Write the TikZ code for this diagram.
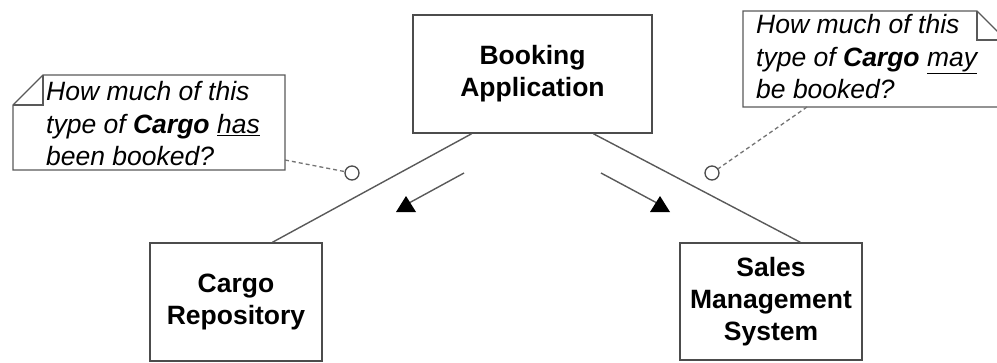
\documentclass[tikz,border=0pt]{standalone}
\usepackage{fontspec}
\setmainfont{Liberation Sans}
\usetikzlibrary{calc}
\begin{document}
\begin{tikzpicture}[x=1pt,y=-1pt,
  box/.style={draw=black!70, line width=1.4pt, align=center, inner sep=0pt,
    font=\fontsize{26.5}{32}\selectfont\bfseries},
  conn/.style={draw=black!65, line width=1.4pt},
  notetext/.style={align=left, inner sep=0pt, anchor=west,
    font=\fontsize{26.5}{32.5}\selectfont\itshape},
  noteline/.style={draw=black!65, line width=1.3pt},
  notedash/.style={draw=black!55, line width=1.3pt, dash pattern=on 4pt off 3pt},
  pin/.style={circle, draw=black!70, line width=1.3pt, fill=white, minimum size=14pt, inner sep=0pt},
  tri/.style={fill=black}
]
\useasboundingbox (0,0) rectangle (997,362);

% boxes
\node[box, minimum width=239pt, minimum height=118pt] (book) at (532.5,74) {Booking\\Application};
\node[box, minimum width=172pt, minimum height=118pt] (cargo) at (236,302) {Cargo\\Repository};
\node[box, minimum width=182pt, minimum height=117pt] (sales) at (771,301.5) {Sales\\Management\\System};

% connectors
\draw[conn] ($(book.south west)!0.247!(book.south east)$) -- ($(cargo.north west)!0.71!(cargo.north east)$);
\draw[conn] ($(book.south west)!0.753!(book.south east)$) -- ($(sales.north west)!0.66!(sales.north east)$);

% direction arrows
\coordinate (la1) at (464,173);
\coordinate (la2) at (409,203);
\draw[conn] (la1) -- (la2);
\fill[tri] (396,212) -- (406,196) -- (416,212) -- cycle;
\coordinate (ra1) at (601,173);
\coordinate (ra2) at (657,203);
\draw[conn] (ra1) -- (ra2);
\fill[tri] (650,212) -- (660,196) -- (670,212) -- cycle;

% left note
\draw[noteline] (13,105) -- (43,75) -- (285,75) -- (285,170) -- (13,170) -- cycle;
\draw[noteline] (43,75) -- (43,105) -- (13,105);
\node[notetext] (lnote) at (46,124) {How much of this\\type of \textbf{Cargo} \underline{has}\\been booked?};
\node[pin] (lpin) at (352,173) {};
\coordinate (lnoteend) at (285,160);
\draw[notedash] (lnoteend) -- (lpin);

% right note
\draw[noteline] (743,11) -- (977,11) -- (1007,41) -- (1007,107) -- (743,107) -- cycle;
\draw[noteline] (977,11) -- (977,40) -- (1007,40);
\node[notetext] (rnote) at (756,57) {How much of this\\type of \textbf{Cargo} \underline{may}\\be booked?};
\node[pin] (rpin) at (712,173) {};
\coordinate (rnoteend) at (807,107);
\draw[notedash] (rnoteend) -- (rpin);
\end{tikzpicture}
\end{document}
